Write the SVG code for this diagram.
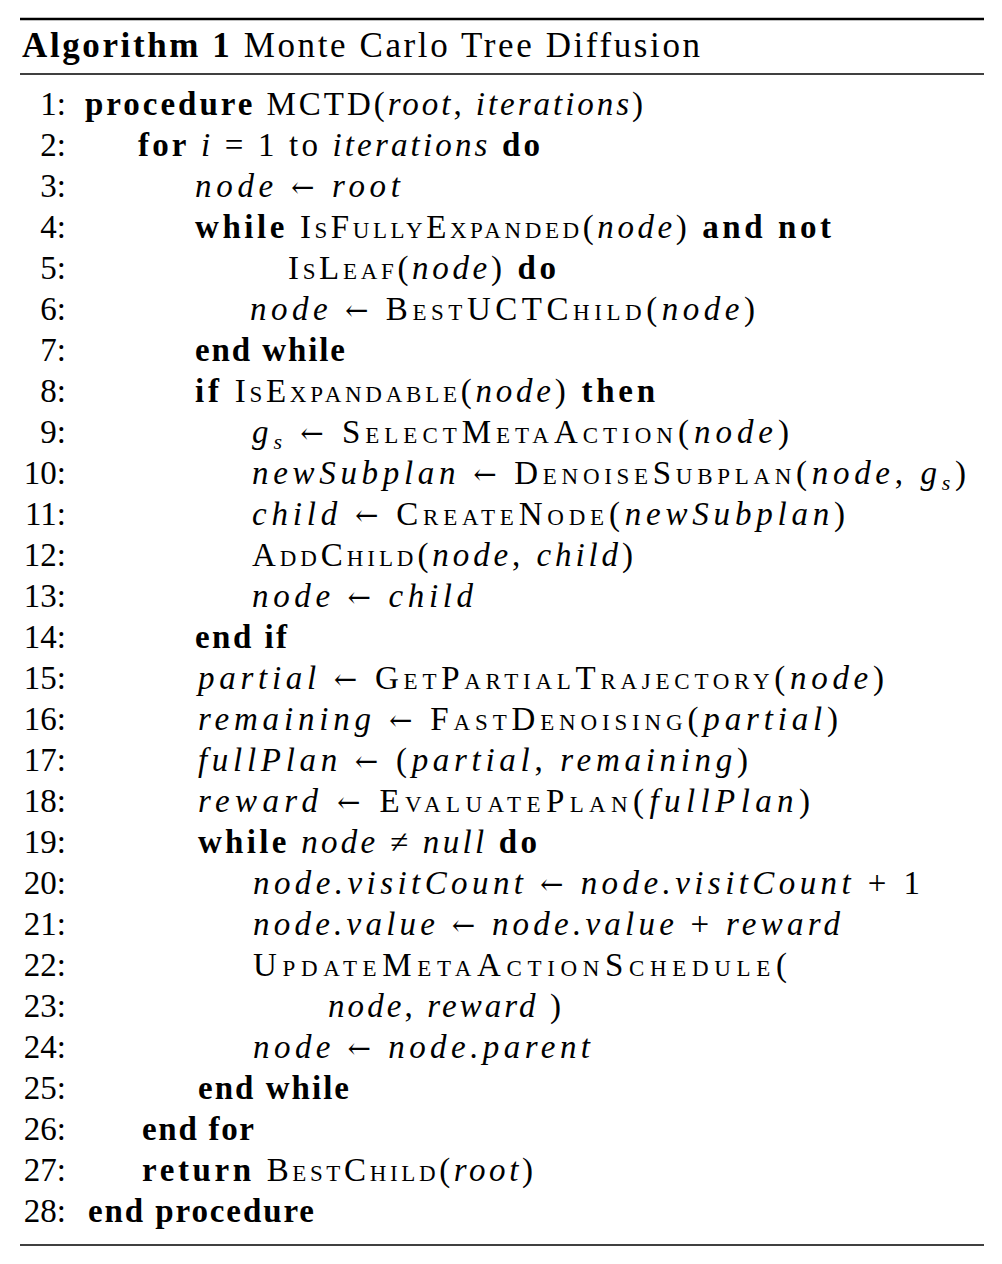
<svg xmlns="http://www.w3.org/2000/svg" width="1002" height="1264" viewBox="0 0 1002 1264">
<style>
text{font-family:"Liberation Serif","DejaVu Serif",serif;font-size:33px;fill:#000}
.n{text-anchor:end}
.b{font-weight:bold}
.i{font-style:italic}
.s{font-variant:small-caps}
.a{font-family:"DejaVu Serif",serif;font-size:28px}
</style>
<rect width="1002" height="1264" fill="#fff"/>
<line x1="20" y1="19" x2="984" y2="19" stroke="#000" stroke-width="2.5"/>
<line x1="20" y1="74" x2="984" y2="74" stroke="#000" stroke-width="1.5"/>
<line x1="20" y1="1245" x2="984" y2="1245" stroke="#000" stroke-width="1.5"/>
<text x="22" y="57" style="font-size:35px" textLength="678" lengthAdjust="spacing"><tspan class="b">Algorithm 1</tspan> Monte Carlo Tree Diffusion</text>
<g id="nums">
<text class="n" x="66" y="115">1:</text><text class="n" x="66" y="156">2:</text><text class="n" x="66" y="197">3:</text><text class="n" x="66" y="238">4:</text><text class="n" x="66" y="279">5:</text><text class="n" x="66" y="320">6:</text><text class="n" x="66" y="361">7:</text><text class="n" x="66" y="402">8:</text><text class="n" x="66" y="443">9:</text><text class="n" x="66" y="484">10:</text><text class="n" x="66" y="525">11:</text><text class="n" x="66" y="566">12:</text><text class="n" x="66" y="607">13:</text><text class="n" x="66" y="648">14:</text><text class="n" x="66" y="689">15:</text><text class="n" x="66" y="730">16:</text><text class="n" x="66" y="771">17:</text><text class="n" x="66" y="812">18:</text><text class="n" x="66" y="853">19:</text><text class="n" x="66" y="894">20:</text><text class="n" x="66" y="935">21:</text><text class="n" x="66" y="976">22:</text><text class="n" x="66" y="1017">23:</text><text class="n" x="66" y="1058">24:</text><text class="n" x="66" y="1099">25:</text><text class="n" x="66" y="1140">26:</text><text class="n" x="66" y="1181">27:</text><text class="n" x="66" y="1222">28:</text>
</g>
<g id="code">
<text x="85" y="115" textLength="558" lengthAdjust="spacing"><tspan class="b">procedure</tspan> MCTD(<tspan class="i">root</tspan>, <tspan class="i">iterations</tspan>)</text>
<text x="138" y="156" textLength="402" lengthAdjust="spacing"><tspan class="b">for</tspan> <tspan class="i">i</tspan> = 1 to <tspan class="i">iterations</tspan> <tspan class="b">do</tspan></text>
<text x="195" y="197" textLength="205" lengthAdjust="spacing"><tspan class="i">node</tspan> <tspan class="a">←</tspan> <tspan class="i">root</tspan></text>
<text x="195" y="238" textLength="636" lengthAdjust="spacing"><tspan class="b">while</tspan> <tspan class="s">IsFullyExpanded</tspan>(<tspan class="i">node</tspan>) <tspan class="b">and not</tspan></text>
<text x="288" y="279" textLength="268" lengthAdjust="spacing"><tspan class="s">IsLeaf</tspan>(<tspan class="i">node</tspan>) <tspan class="b">do</tspan></text>
<text x="250" y="320" textLength="505" lengthAdjust="spacing"><tspan class="i">node</tspan> <tspan class="a">←</tspan> <tspan class="s">BestUCTChild</tspan>(<tspan class="i">node</tspan>)</text>
<text x="195" y="361" class="b" textLength="150" lengthAdjust="spacing">end while</text>
<text x="195" y="402" textLength="460" lengthAdjust="spacing"><tspan class="b">if</tspan> <tspan class="s">IsExpandable</tspan>(<tspan class="i">node</tspan>) <tspan class="b">then</tspan></text>
<text x="252" y="443" textLength="537" lengthAdjust="spacing"><tspan class="i">g</tspan><tspan class="i" dy="6" style="font-size:22px">s</tspan><tspan dy="-6"> </tspan><tspan class="a">←</tspan> <tspan class="s">SelectMetaAction</tspan>(<tspan class="i">node</tspan>)</text>
<text x="252" y="484" textLength="714" lengthAdjust="spacing"><tspan class="i">newSubplan</tspan> <tspan class="a">←</tspan> <tspan class="s">DenoiseSubplan</tspan>(<tspan class="i">node</tspan>, <tspan class="i">g</tspan><tspan class="i" dy="6" style="font-size:22px">s</tspan><tspan dy="-6">)</tspan></text>
<text x="252" y="525" textLength="593" lengthAdjust="spacing"><tspan class="i">child</tspan> <tspan class="a">←</tspan> <tspan class="s">CreateNode</tspan>(<tspan class="i">newSubplan</tspan>)</text>
<text x="252" y="566" textLength="381" lengthAdjust="spacing"><tspan class="s">AddChild</tspan>(<tspan class="i">node</tspan>, <tspan class="i">child</tspan>)</text>
<text x="252" y="607" textLength="221" lengthAdjust="spacing"><tspan class="i">node</tspan> <tspan class="a">←</tspan> <tspan class="i">child</tspan></text>
<text x="195" y="648" class="b" textLength="92" lengthAdjust="spacing">end if</text>
<text x="198" y="689" textLength="686" lengthAdjust="spacing"><tspan class="i">partial</tspan> <tspan class="a">←</tspan> <tspan class="s">GetPartialTrajectory</tspan>(<tspan class="i">node</tspan>)</text>
<text x="198" y="730" textLength="640" lengthAdjust="spacing"><tspan class="i">remaining</tspan> <tspan class="a">←</tspan> <tspan class="s">FastDenoising</tspan>(<tspan class="i">partial</tspan>)</text>
<text x="198" y="771" textLength="550" lengthAdjust="spacing"><tspan class="i">fullPlan</tspan> <tspan class="a">←</tspan> (<tspan class="i">partial</tspan>, <tspan class="i">remaining</tspan>)</text>
<text x="198" y="812" textLength="612" lengthAdjust="spacing"><tspan class="i">reward</tspan> <tspan class="a">←</tspan> <tspan class="s">EvaluatePlan</tspan>(<tspan class="i">fullPlan</tspan>)</text>
<text x="198" y="853" textLength="339" lengthAdjust="spacing"><tspan class="b">while</tspan> <tspan class="i">node</tspan> ≠ <tspan class="i">null</tspan> <tspan class="b">do</tspan></text>
<text x="253" y="894" textLength="667" lengthAdjust="spacing"><tspan class="i">node.visitCount</tspan> <tspan class="a">←</tspan> <tspan class="i">node.visitCount</tspan> + 1</text>
<text x="253" y="935" textLength="587" lengthAdjust="spacing"><tspan class="i">node.value</tspan> <tspan class="a">←</tspan> <tspan class="i">node.value</tspan> + <tspan class="i">reward</tspan></text>
<text x="253" y="976" class="s" textLength="534" lengthAdjust="spacing">UpdateMetaActionSchedule(</text>
<text x="328" y="1017" textLength="233" lengthAdjust="spacing"><tspan class="i">node</tspan>, <tspan class="i">reward</tspan> )</text>
<text x="253" y="1058" textLength="337" lengthAdjust="spacing"><tspan class="i">node</tspan> <tspan class="a">←</tspan> <tspan class="i">node.parent</tspan></text>
<text x="198" y="1099" class="b" textLength="151" lengthAdjust="spacing">end while</text>
<text x="142" y="1140" class="b" textLength="112" lengthAdjust="spacing">end for</text>
<text x="142" y="1181" textLength="391" lengthAdjust="spacing"><tspan class="b">return</tspan> <tspan class="s">BestChild</tspan>(<tspan class="i">root</tspan>)</text>
<text x="88" y="1222" class="b" textLength="226" lengthAdjust="spacing">end procedure</text>
</g>
</svg>
